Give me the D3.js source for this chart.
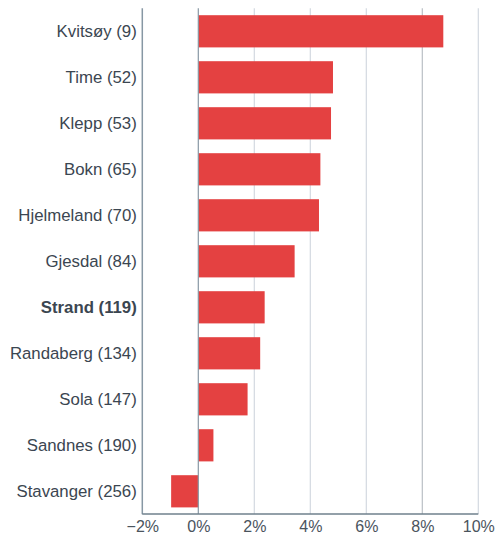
<!DOCTYPE html>
<html><head><meta charset="utf-8">
<script src="https://cdn.jsdelivr.net/npm/d3@7"></script>
<style>body{margin:0;background:#fff}</style>
</head><body>
<svg id="c" width="497" height="536"></svg>
<script>
const categories = ["Kvitsøy (9)","Time (52)","Klepp (53)","Bokn (65)","Hjelmeland (70)","Gjesdal (84)","Strand (119)","Randaberg (134)","Sola (147)","Sandnes (190)","Stavanger (256)"];
const values = [8.75, 4.81, 4.74, 4.36, 4.31, 3.44, 2.37, 2.21, 1.76, 0.54, -0.97];
const highlight = ["Strand (119)"];
const tickValues = [-2, 0, 2, 4, 6, 8, 10];

const svg = d3.select("#c");
const x = d3.scaleLinear().domain([-2, 10]).range([142.3, 478.3]);
const y = d3.scaleBand().domain(categories).range([8.3, 514.3]).paddingInner(0.3).paddingOuter(0.15);
const font = "'Liberation Sans', Arial, Helvetica, sans-serif";

// grid lines
svg.append("g").selectAll("line").data(tickValues.filter(d => d !== -2 && d !== 0)).join("line")
  .attr("x1", d => x(d)).attr("x2", d => x(d))
  .attr("y1", 8.3).attr("y2", 514)
  .attr("stroke", d => d === 8 ? "#b9bfc5" : "#d3d9e0").attr("stroke-width", 1.2);

// bars
svg.append("g").selectAll("rect").data(categories).join("rect")
  .attr("x", (d, i) => x(Math.min(0, values[i])))
  .attr("width", (d, i) => Math.abs(x(values[i]) - x(0)))
  .attr("y", d => y(d)).attr("height", y.bandwidth())
  .attr("fill", "#e44141");

// zero line
svg.append("line").attr("x1", x(0)).attr("x2", x(0)).attr("y1", 8.3).attr("y2", 514)
  .attr("stroke", "#8797a4").attr("stroke-width", 1.2);

// left axis
const yAxis = svg.append("g").attr("transform", `translate(${x(-2)},0)`)
  .call(d3.axisLeft(y).tickSize(0).tickPadding(5.5));
yAxis.select(".domain").attr("stroke", "#8797a4").attr("stroke-width", 1.5)
  .attr("d", `M0,8.3V514.3`);
yAxis.selectAll("text").attr("font-family", font).attr("font-size", 16.8)
  .attr("fill", "#3b4651")
  .attr("font-weight", d => highlight.includes(d) ? "bold" : "normal");

// bottom axis
const xAxis = svg.append("g").attr("transform", `translate(0,514)`)
  .call(d3.axisBottom(x).tickValues(tickValues).tickSize(0).tickPadding(7)
    .tickFormat(d => (d < 0 ? "\u2212" + Math.abs(d) : d) + "%"));
xAxis.select(".domain").attr("stroke", "#6f808d").attr("stroke-width", 1.5)
  .attr("d", `M${x(-2)},0H${x(10)}`);
xAxis.selectAll("text").attr("font-family", font).attr("font-size", 16)
  .attr("fill", "#4a545d");
</script>
</body></html>
